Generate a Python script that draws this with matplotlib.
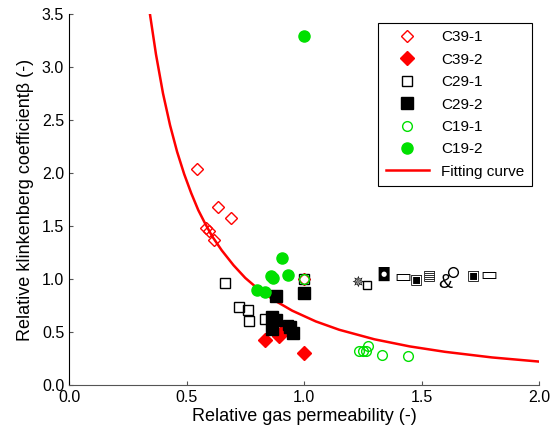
import numpy as np
import matplotlib
matplotlib.use('Agg')
import matplotlib.pyplot as plt

plt.rcParams['font.family'] = ['Liberation Sans', 'DejaVu Sans']

# data
c39_1_x = [0.543, 0.636, 0.689, 0.583, 0.597, 0.617, 1.0]
c39_1_y = [2.04, 1.68, 1.58, 1.48, 1.45, 1.37, 1.0]
c39_2_x = [0.834, 0.895, 0.912, 1.0]
c39_2_y = [0.42, 0.46, 0.51, 0.30]
c29_1_x = [0.664, 0.723, 0.760, 0.765, 0.834, 0.933, 1.0]
c29_1_y = [0.96, 0.74, 0.71, 0.60, 0.62, 0.566, 1.0]
c29_2_x = [0.88, 1.0, 0.865, 0.88, 0.865, 0.94, 0.955]
c29_2_y = [0.84, 0.87, 0.64, 0.61, 0.53, 0.55, 0.49]
c19_1_x = [1.235, 1.25, 1.264, 1.274, 1.33, 1.444, 1.0]
c19_1_y = [0.32, 0.32, 0.32, 0.37, 0.28, 0.27, 1.0]
c19_2_x = [1.0, 0.908, 0.86, 0.93, 0.80, 0.834, 0.87]
c19_2_y = [3.29, 1.20, 1.03, 1.04, 0.90, 0.88, 1.01]

# fitting curve as drawn
fit_x = [0.345, 0.37, 0.40, 0.43, 0.46, 0.49, 0.52, 0.55, 0.58, 0.61, 0.65, 0.70,
         0.75, 0.80, 0.87, 0.95, 1.05, 1.15, 1.30, 1.45, 1.60, 1.80, 2.0]
fit_y = [3.49, 3.12, 2.75, 2.45, 2.20, 1.99, 1.81, 1.65, 1.52, 1.40, 1.27, 1.13,
         1.01, 0.915, 0.804, 0.701, 0.600, 0.521, 0.431, 0.364, 0.313, 0.260, 0.221]

fig = plt.figure(figsize=(5.5, 4.34), dpi=100)
ax = fig.add_axes([0.1255, 0.1129, 0.8545, 0.8548])

ax.plot(fit_x, fit_y, color='red', lw=1.8, label='Fitting curve', zorder=1)
ax.plot(c39_1_x, c39_1_y, 'D', ls='none', ms=6, mfc='none', mec='red', mew=1, label='C39-1')
ax.plot(c39_2_x, c39_2_y, 'D', ls='none', ms=7, color='red', label='C39-2')
ax.plot(c29_1_x, c29_1_y, 's', ls='none', ms=7, mfc='none', mec='black', mew=1, label='C29-1')
ax.plot(c29_2_x, c29_2_y, 's', ls='none', ms=8, color='black', label='C29-2')
ax.plot(c19_1_x, c19_1_y, 'o', ls='none', ms=7, mfc='none', mec='#00e000', mew=1, label='C19-1')
ax.plot(c19_2_x, c19_2_y, 'o', ls='none', ms=8, color='#00e000', label='C19-2')

# stray glyphs present in the original figure
glyph_style = dict(ha='center', va='center', family='DejaVu Sans')
ax.text(1.23, 0.97, '\u2735', fontsize=11, **glyph_style)
ax.plot([1.27], [0.94], 's', ms=6, mfc='white', mec='black', mew=1)
ax.text(1.34, 1.03, '\u25d8', fontsize=13, **glyph_style)
ax.text(1.42, 1.02, '\u25ad', fontsize=13, **glyph_style)
ax.text(1.48, 1.0, '\u25a3', fontsize=10, **glyph_style)
ax.text(1.535, 1.04, '\u25a4', fontsize=10, **glyph_style)
ax.text(1.60, 0.97, '&', fontsize=15, ha='center', va='center')
ax.plot([1.635], [1.07], 'o', ms=7, mfc='white', mec='black', mew=1)
ax.text(1.72, 1.04, '\u25a3', fontsize=10, **glyph_style)
ax.text(1.785, 1.04, '\u25ad', fontsize=13, **glyph_style)

ax.set_xlim(0, 2.0)
ax.set_ylim(0, 3.5)
ax.set_xticks(np.arange(0, 2.01, 0.5))
ax.set_yticks(np.arange(0, 3.51, 0.5))
ax.set_xticklabels(['0.0', '0.5', '1.0', '1.5', '2.0'])
ax.set_yticklabels(['%.1f' % v for v in np.arange(0, 3.51, 0.5)])
ax.tick_params(direction='in', length=3, labelsize=11.5, color='#555555')
ax.spines['top'].set_visible(False)
ax.spines['right'].set_visible(False)
ax.spines['left'].set_color('black')
ax.spines['bottom'].set_color('#555555')

ax.set_xlabel('Relative gas permeability (-)', fontsize=13, labelpad=2)
ax.set_ylabel('Relative klinkenberg coefficient\u03b2 (-)', fontsize=13, labelpad=6)

handles, labels = ax.get_legend_handles_labels()
order = [1, 2, 3, 4, 5, 6, 0]
leg = ax.legend([handles[i] for i in order], [labels[i] for i in order],
                loc='upper right', bbox_to_anchor=(1.001, 0.997), fontsize=11,
                frameon=True, fancybox=False, edgecolor='black', framealpha=1,
                handlelength=2.8, labelspacing=0.55, borderpad=0.5)
leg.get_frame().set_linewidth(0.8)

fig.savefig('out.png', dpi=100)
